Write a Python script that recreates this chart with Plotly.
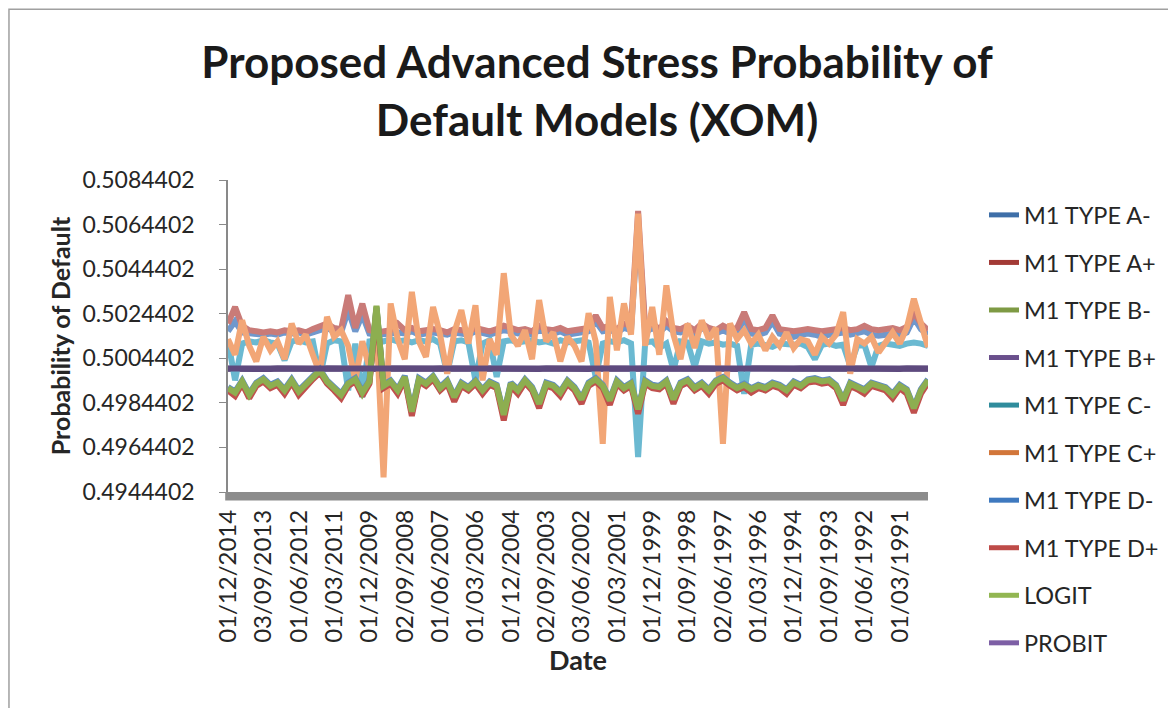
import plotly.graph_objects as go

# month index (0 = Dec 2014, counting back one month per step), sampled every 3 months
MONTHS = list(range(0, 300, 3))

X_TICK_MONTHS = list(range(0, 300, 15))[:20]
X_TICK_LABELS = ["01/12/2014", "03/09/2013", "01/06/2012", "01/03/2011", "01/12/2009",
                 "02/09/2008", "01/06/2007", "01/03/2006", "01/12/2004", "02/09/2003",
                 "03/06/2002", "01/03/2001", "01/12/1999", "01/09/1998", "02/06/1997",
                 "01/03/1996", "01/12/1994", "01/09/1993", "01/06/1992", "01/03/1991"]

Y_TICKS = [0.4944402, 0.4964402, 0.4984402, 0.5004402, 0.5024402, 0.5044402, 0.5064402, 0.5084402]
Y_TICK_LABELS = ["0.4944402", "0.4964402", "0.4984402", "0.5004402",
                 "0.5024402", "0.5044402", "0.5064402", "0.5084402"]

A_MINUS = [0.50165, 0.50210, 0.50160, 0.50155, 0.50155, 0.50150, 0.50155, 0.50150, 0.50160, 0.50155,
           0.50160, 0.50150, 0.50160, 0.50170, 0.50180, 0.50165, 0.50160, 0.50260, 0.50165, 0.50240,
           0.50155, 0.50150, 0.50150, 0.50155, 0.50160, 0.50155, 0.50165, 0.50150, 0.50155, 0.50160,
           0.50155, 0.50150, 0.50160, 0.50155, 0.50150, 0.50165, 0.50155, 0.50150, 0.50160, 0.50170,
           0.50165, 0.50155, 0.50160, 0.50150, 0.50170, 0.50160, 0.50155, 0.50165, 0.50150, 0.50155,
           0.50160, 0.50165, 0.50210, 0.50165, 0.50170, 0.50160, 0.50180, 0.50170, 0.50650, 0.50160,
           0.50180, 0.50160, 0.50190, 0.50165, 0.50160, 0.50170, 0.50150, 0.50180, 0.50165, 0.50155,
           0.50170, 0.50155, 0.50160, 0.50220, 0.50155, 0.50150, 0.50160, 0.50210, 0.50155, 0.50150,
           0.50140, 0.50150, 0.50155, 0.50150, 0.50140, 0.50150, 0.50155, 0.50160, 0.50150, 0.50155,
           0.50165, 0.50150, 0.50145, 0.50150, 0.50155, 0.50145, 0.50160, 0.50225, 0.50175, 0.50150]

A_PLUS = [0.50200, 0.50274, 0.50190, 0.50170, 0.50165, 0.50160, 0.50165, 0.50160, 0.50170, 0.50165,
          0.50170, 0.50160, 0.50175, 0.50190, 0.50200, 0.50180, 0.50175, 0.50327, 0.50180, 0.50289,
          0.50170, 0.50160, 0.50165, 0.50170, 0.50200, 0.50170, 0.50180, 0.50165, 0.50170, 0.50175,
          0.50170, 0.50160, 0.50175, 0.50170, 0.50165, 0.50180, 0.50170, 0.50165, 0.50175, 0.50190,
          0.50180, 0.50170, 0.50175, 0.50165, 0.50190, 0.50175, 0.50170, 0.50180, 0.50165, 0.50170,
          0.50175, 0.50180, 0.50236, 0.50180, 0.50190, 0.50175, 0.50200, 0.50190, 0.50705, 0.50180,
          0.50200, 0.50175, 0.50210, 0.50180, 0.50175, 0.50190, 0.50170, 0.50200, 0.50180, 0.50170,
          0.50190, 0.50175, 0.50180, 0.50251, 0.50175, 0.50170, 0.50180, 0.50236, 0.50175, 0.50170,
          0.50165, 0.50170, 0.50175, 0.50170, 0.50165, 0.50170, 0.50175, 0.50180, 0.50170, 0.50175,
          0.50190, 0.50175, 0.50170, 0.50175, 0.50180, 0.50170, 0.50185, 0.50250, 0.50200, 0.50170]

B_MINUS = [0.49905, 0.49885, 0.49935, 0.49880, 0.49925, 0.49945, 0.49915, 0.49930, 0.49895, 0.49940,
           0.49890, 0.49925, 0.49955, 0.49985, 0.49935, 0.49905, 0.49875, 0.49925, 0.49945, 0.49885,
           0.49935, 0.50275, 0.49915, 0.49935, 0.49895, 0.49955, 0.49800, 0.49945, 0.49925, 0.49955,
           0.49905, 0.49935, 0.49865, 0.49925, 0.49905, 0.49935, 0.49895, 0.49930, 0.49915, 0.49785,
           0.49925, 0.49895, 0.49940, 0.49905, 0.49835, 0.49925, 0.49915, 0.49885, 0.49935, 0.49905,
           0.49855, 0.49925, 0.49945, 0.49915, 0.49850, 0.49935, 0.49905, 0.49925, 0.49810, 0.49935,
           0.49915, 0.49910, 0.49935, 0.49855, 0.49925, 0.49940, 0.49905, 0.49925, 0.49895, 0.49935,
           0.49950, 0.49925, 0.49905, 0.49920, 0.49900, 0.49915, 0.49905, 0.49925, 0.49915, 0.49895,
           0.49930, 0.49915, 0.49940, 0.49945, 0.49935, 0.49940, 0.49915, 0.49850, 0.49925, 0.49910,
           0.49895, 0.49925, 0.49915, 0.49905, 0.49875, 0.49915, 0.49895, 0.49815, 0.49895, 0.49940]

B_PLUS = [0.49997, 0.49996, 0.49998, 0.49997, 0.49998, 0.49997, 0.49996, 0.49998, 0.49997, 0.49998,
          0.49997, 0.49998, 0.49997, 0.49996, 0.49998, 0.49997, 0.49998, 0.49997, 0.49996, 0.49997,
          0.49998, 0.49997, 0.49996, 0.49998, 0.49997, 0.49998, 0.49997, 0.49996, 0.49998, 0.49997,
          0.49998, 0.49997, 0.49998, 0.49996, 0.49997, 0.49998, 0.49997, 0.49998, 0.49997, 0.49996,
          0.49998, 0.49997, 0.49998, 0.49997, 0.49996, 0.49998, 0.49997, 0.49998, 0.49997, 0.49998,
          0.49997, 0.49996, 0.49998, 0.49997, 0.49998, 0.49997, 0.49996, 0.49998, 0.49997, 0.49998,
          0.49997, 0.49998, 0.49997, 0.49996, 0.49998, 0.49997, 0.49998, 0.49997, 0.49996, 0.49998,
          0.49997, 0.49998, 0.49997, 0.49996, 0.49998, 0.49997, 0.49998, 0.49997, 0.49998, 0.49996,
          0.49997, 0.49998, 0.49997, 0.49998, 0.49996, 0.49997, 0.49998, 0.49997, 0.49998, 0.49997,
          0.49996, 0.49998, 0.49997, 0.49998, 0.49997, 0.49996, 0.49998, 0.49997, 0.49998, 0.49997]

C_MINUS = [0.50125, 0.49945, 0.50110, 0.50120, 0.50115, 0.50125, 0.50115, 0.50110, 0.50035, 0.50120,
           0.50125, 0.50115, 0.50120, 0.49960, 0.50110, 0.50125, 0.50120, 0.49900, 0.50110, 0.49870,
           0.50120, 0.50125, 0.50120, 0.50130, 0.50120, 0.50125, 0.50115, 0.50125, 0.50120, 0.50130,
           0.50110, 0.49977, 0.50120, 0.50125, 0.50115, 0.49945, 0.50110, 0.50125, 0.49960, 0.50120,
           0.50125, 0.50115, 0.50120, 0.50125, 0.50115, 0.50120, 0.50110, 0.50125, 0.50115, 0.50120,
           0.50125, 0.50115, 0.49960, 0.50110, 0.50120, 0.50115, 0.50125, 0.50110, 0.49601, 0.50115,
           0.50120, 0.50090, 0.50110, 0.49990, 0.50120, 0.50115, 0.50005, 0.50120, 0.50110, 0.50115,
           0.50105, 0.50110, 0.50100, 0.49885, 0.50105, 0.50110, 0.50105, 0.50095, 0.50110, 0.50105,
           0.50105, 0.50110, 0.50095, 0.50040, 0.50105, 0.50110, 0.50100, 0.50105, 0.50010, 0.50100,
           0.50105, 0.50005, 0.50100, 0.50110, 0.50105, 0.50100, 0.50110, 0.50115, 0.50110, 0.50100]

C_PLUS = [0.50130, 0.50060, 0.50215, 0.50100, 0.50030, 0.50140, 0.50080, 0.50120, 0.50040, 0.50200,
          0.50110, 0.50150, 0.50060, 0.49975, 0.50230, 0.50140, 0.50170, 0.50100, 0.49945, 0.50120,
          0.50000, 0.50180, 0.49510, 0.50290, 0.50130, 0.50040, 0.50342, 0.50120, 0.50050, 0.50274,
          0.50150, 0.49975, 0.50160, 0.50260, 0.50110, 0.50282, 0.49945, 0.50130, 0.50060, 0.50426,
          0.50150, 0.50100, 0.50170, 0.50040, 0.50305, 0.50120, 0.50160, 0.50030, 0.50140, 0.50100,
          0.50030, 0.50246, 0.50120, 0.49660, 0.50319, 0.50080, 0.50290, 0.50150, 0.50693, 0.50100,
          0.50274, 0.50060, 0.50371, 0.50150, 0.50040, 0.50200, 0.50090, 0.50214, 0.50130, 0.50180,
          0.49660, 0.50200, 0.50130, 0.50170, 0.50110, 0.50150, 0.50080, 0.50140, 0.50100, 0.50160,
          0.50090, 0.50130, 0.50120, 0.50060, 0.50140, 0.50110, 0.50150, 0.50251, 0.49975, 0.50130,
          0.50110, 0.50140, 0.50070, 0.50120, 0.50160, 0.50110, 0.50180, 0.50311, 0.50190, 0.50094]

D_MINUS = [0.49915, 0.49895, 0.49945, 0.49885, 0.49935, 0.49955, 0.49925, 0.49940, 0.49905, 0.49950,
           0.49900, 0.49935, 0.49965, 0.49995, 0.49945, 0.49915, 0.49885, 0.49935, 0.49955, 0.49895,
           0.49945, 0.50270, 0.49925, 0.49945, 0.49905, 0.49965, 0.49810, 0.49955, 0.49935, 0.49965,
           0.49915, 0.49945, 0.49875, 0.49935, 0.49915, 0.49945, 0.49905, 0.49940, 0.49925, 0.49795,
           0.49935, 0.49905, 0.49950, 0.49915, 0.49845, 0.49935, 0.49925, 0.49895, 0.49945, 0.49915,
           0.49865, 0.49935, 0.49955, 0.49925, 0.49860, 0.49945, 0.49915, 0.49935, 0.49820, 0.49945,
           0.49925, 0.49920, 0.49945, 0.49865, 0.49935, 0.49950, 0.49915, 0.49935, 0.49905, 0.49945,
           0.49960, 0.49935, 0.49915, 0.49930, 0.49910, 0.49925, 0.49915, 0.49935, 0.49925, 0.49905,
           0.49940, 0.49925, 0.49950, 0.49955, 0.49945, 0.49950, 0.49925, 0.49860, 0.49935, 0.49920,
           0.49905, 0.49935, 0.49925, 0.49915, 0.49885, 0.49925, 0.49905, 0.49825, 0.49905, 0.49950]

D_PLUS = [0.49900, 0.49875, 0.49930, 0.49865, 0.49920, 0.49940, 0.49910, 0.49925, 0.49885, 0.49935,
          0.49880, 0.49920, 0.49950, 0.49980, 0.49930, 0.49900, 0.49865, 0.49920, 0.49940, 0.49875,
          0.49930, 0.50260, 0.49910, 0.49930, 0.49885, 0.49950, 0.49785, 0.49940, 0.49920, 0.49950,
          0.49900, 0.49930, 0.49850, 0.49920, 0.49900, 0.49930, 0.49885, 0.49925, 0.49910, 0.49765,
          0.49920, 0.49885, 0.49935, 0.49900, 0.49820, 0.49920, 0.49910, 0.49875, 0.49930, 0.49900,
          0.49840, 0.49920, 0.49940, 0.49910, 0.49835, 0.49930, 0.49900, 0.49920, 0.49795, 0.49930,
          0.49910, 0.49905, 0.49930, 0.49840, 0.49920, 0.49935, 0.49900, 0.49920, 0.49885, 0.49930,
          0.49945, 0.49920, 0.49900, 0.49915, 0.49890, 0.49910, 0.49900, 0.49920, 0.49910, 0.49885,
          0.49925, 0.49910, 0.49935, 0.49940, 0.49930, 0.49935, 0.49910, 0.49835, 0.49920, 0.49905,
          0.49885, 0.49920, 0.49910, 0.49900, 0.49865, 0.49910, 0.49885, 0.49800, 0.49885, 0.49935]

LOGIT = [0.49910, 0.49890, 0.49940, 0.49880, 0.49930, 0.49950, 0.49920, 0.49935, 0.49900, 0.49945,
         0.49895, 0.49930, 0.49960, 0.49990, 0.49940, 0.49910, 0.49880, 0.49930, 0.49950, 0.49890,
         0.49940, 0.50280, 0.49920, 0.49940, 0.49900, 0.49960, 0.49805, 0.49950, 0.49930, 0.49960,
         0.49910, 0.49940, 0.49870, 0.49930, 0.49910, 0.49940, 0.49900, 0.49935, 0.49920, 0.49790,
         0.49930, 0.49900, 0.49945, 0.49910, 0.49840, 0.49930, 0.49920, 0.49890, 0.49940, 0.49910,
         0.49860, 0.49930, 0.49950, 0.49920, 0.49855, 0.49940, 0.49910, 0.49930, 0.49815, 0.49940,
         0.49920, 0.49915, 0.49940, 0.49860, 0.49930, 0.49945, 0.49910, 0.49930, 0.49900, 0.49940,
         0.49955, 0.49930, 0.49910, 0.49925, 0.49905, 0.49920, 0.49910, 0.49930, 0.49920, 0.49900,
         0.49935, 0.49920, 0.49945, 0.49950, 0.49940, 0.49945, 0.49920, 0.49855, 0.49930, 0.49915,
         0.49900, 0.49930, 0.49920, 0.49910, 0.49880, 0.49920, 0.49900, 0.49820, 0.49900, 0.49945]

PROBIT = [0.49998, 0.49998, 0.49997, 0.49998, 0.49999, 0.49998, 0.49997, 0.49998, 0.49998, 0.49999,
          0.49998, 0.49997, 0.49998, 0.49998, 0.49999, 0.49998, 0.49997, 0.49998, 0.49998, 0.49997,
          0.49998, 0.49999, 0.49998, 0.49997, 0.49998, 0.49998, 0.49999, 0.49998, 0.49997, 0.49998,
          0.49998, 0.49999, 0.49998, 0.49997, 0.49998, 0.49998, 0.49999, 0.49998, 0.49997, 0.49998,
          0.49998, 0.49999, 0.49998, 0.49997, 0.49998, 0.49998, 0.49999, 0.49998, 0.49997, 0.49998,
          0.49998, 0.49999, 0.49998, 0.49997, 0.49998, 0.49998, 0.49999, 0.49998, 0.49997, 0.49998,
          0.49998, 0.49999, 0.49998, 0.49997, 0.49998, 0.49998, 0.49999, 0.49998, 0.49997, 0.49998,
          0.49998, 0.49999, 0.49998, 0.49997, 0.49998, 0.49998, 0.49999, 0.49998, 0.49997, 0.49998,
          0.49998, 0.49999, 0.49998, 0.49997, 0.49998, 0.49998, 0.49999, 0.49998, 0.49997, 0.49998,
          0.49998, 0.49999, 0.49998, 0.49997, 0.49998, 0.49998, 0.49999, 0.49998, 0.49997, 0.49998]

SERIES_NAMES = ["M1 TYPE A-", "M1 TYPE A+", "M1 TYPE B-", "M1 TYPE B+", "M1 TYPE C-",
                "M1 TYPE C+", "M1 TYPE D-", "M1 TYPE D+", "LOGIT", "PROBIT"]
SERIES_VALUES = [A_MINUS, A_PLUS, B_MINUS, B_PLUS, C_MINUS, C_PLUS, D_MINUS, D_PLUS, LOGIT, PROBIT]

# colours as they appear in the plot (softened) and in the legend
LINE_COLORS = ["#7098cc", "#c97b78", "#8caa4e", "#5e4a7e", "#6bb9d1",
               "#f2a676", "#5f8bc4", "#c0504d", "#8dae50", "#5e4a7e"]
LEGEND_COLORS = ["#3e6fa8", "#a33a36", "#7e9a44", "#6a4f8c", "#2f8c9c",
                 "#d2763a", "#3e79bf", "#be4b48", "#92b652", "#7d5fa5"]

FONT = "Lato, 'Open Sans', sans-serif"

fig = go.Figure()

for name, vals, col in zip(SERIES_NAMES, SERIES_VALUES, LINE_COLORS):
    fig.add_trace(go.Scatter(x=MONTHS, y=vals, mode="lines", name=name,
                             line=dict(color=col, width=6), showlegend=False))

# legend entries
for name, col in zip(SERIES_NAMES, LEGEND_COLORS):
    fig.add_trace(go.Scatter(x=[None], y=[None], mode="lines", name=name, legendgroup=name,
                             line=dict(color=col, width=5)))

# thick grey category axis bar
fig.add_shape(type="rect", xref="paper", yref="paper", x0=-0.004, x1=1.0, y0=-0.027, y1=0.0,
              fillcolor="#8c8c8c", line_width=0)
# chart border
fig.add_shape(type="rect", xref="paper", yref="paper", x0=-0.3129, x1=1.4, y0=-0.8, y1=1.547,
              line=dict(color="#a0a0a0", width=1.5), fillcolor="rgba(0,0,0,0)")

fig.update_layout(
    width=1176, height=708, autosize=False,
    margin=dict(l=220, r=256, t=172, b=224),
    paper_bgcolor="white", plot_bgcolor="white",
    font=dict(family=FONT, color="#262626"),
    title=dict(text="Proposed Advanced Stress Probability of<br>Default Models (XOM)",
               x=0.5009, xanchor="center", y=0.9005, yanchor="middle",
               font=dict(size=44, family=FONT, weight="bold", color="#1a1a1a")),
    xaxis=dict(range=[0, 297], tickmode="array", tickvals=X_TICK_MONTHS, ticktext=X_TICK_LABELS,
               tickangle=-90, tickfont=dict(size=24), showgrid=False, zeroline=False,
               showline=False, ticks="", ticklabelstandoff=12,
               title=dict(text="Date", font=dict(size=27, weight="bold"), standoff=8)),
    yaxis=dict(range=[0.4944402, 0.5084402], tickmode="array", tickvals=Y_TICKS,
               ticktext=Y_TICK_LABELS, tickfont=dict(size=23), showgrid=False, zeroline=False,
               showline=True, linecolor="#898989", linewidth=1.5, ticks="outside", ticklen=7,
               tickcolor="#898989", ticklabelstandoff=20,
               title=dict(text="Probability of Default", font=dict(size=25, weight="bold"),
                          standoff=5)),
    legend=dict(x=1.08, xanchor="left", y=0.958, yanchor="top", font=dict(size=23.5),
                tracegroupgap=14, traceorder="grouped", bgcolor="rgba(0,0,0,0)",
                maxheight=700),
    showlegend=True,
)

fig.write_html("out.html")
